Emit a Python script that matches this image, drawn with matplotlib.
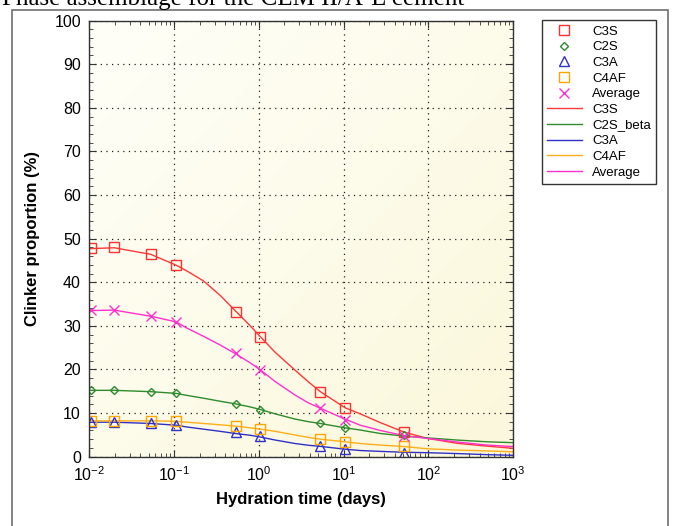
import numpy as np
import matplotlib
matplotlib.use("Agg")
import matplotlib.pyplot as plt
from matplotlib.patches import Rectangle
from matplotlib.ticker import LogLocator, MultipleLocator, NullFormatter

plt.rcParams["font.family"] = ["Liberation Sans", "DejaVu Sans"]

# Measured points (hydration time in days)
t_pts = [0.0104, 0.0197, 0.053, 0.106, 0.53, 1.04, 5.3, 10.4, 52]
c3s_pts = [47.8, 48.0, 46.4, 43.9, 33.2, 27.4, 14.9, 11.1, 5.6]
c2s_pts = [15.2, 15.2, 14.9, 14.5, 12.1, 10.8, 7.6, 6.6, 4.9]
c3a_pts = [7.9, 7.9, 7.6, 7.2, 5.6, 4.7, 2.5, 1.8, 0.9]
c4af_pts = [8.2, 8.2, 8.2, 8.1, 7.1, 6.3, 4.0, 3.4, 2.4]
avg_pts = [33.6, 33.6, 32.2, 30.9, 23.7, 19.9, 11.1, 8.5, 4.7]

# Model curves
t_fit = [0.01, 0.0197, 0.053, 0.106, 0.141, 0.222, 0.349, 0.53, 0.79, 1.04, 1.56,
         2.68, 3.86, 5.3, 10.4, 15.7, 27, 52, 96, 218, 490, 1000]
c3s_fit = [47.7, 47.9, 46.4, 43.9, 42.6, 40.3, 37.0, 33.4, 30.0, 27.5, 23.9,
           19.8, 17.1, 14.9, 11.2, 9.8, 7.8, 5.6, 4.2, 3.05, 2.4, 1.9]
c2s_fit = [15.2, 15.2, 14.9, 14.5, 14.05, 13.4, 12.7, 12.1, 11.4, 10.8, 9.8,
           8.6, 8.0, 7.6, 6.6, 6.1, 5.3, 4.7, 4.3, 3.8, 3.4, 3.2]
c3a_fit = [7.9, 7.9, 7.6, 7.2, 6.8, 6.3, 5.8, 5.3, 4.9, 4.5, 3.8,
           3.0, 2.6, 2.35, 1.7, 1.4, 1.2, 1.0, 0.9, 0.7, 0.45, 0.3]
c4af_fit = [8.2, 8.2, 8.2, 8.1, 7.9, 7.6, 7.3, 7.0, 6.6, 6.3, 5.8,
            4.95, 4.4, 4.0, 3.4, 3.0, 2.65, 2.3, 1.8, 1.5, 1.3, 1.1]
avg_fit = [33.5, 33.6, 32.2, 30.9, 29.5, 27.6, 25.6, 23.6, 21.5, 19.9, 17.2,
           14.1, 12.3, 11.1, 8.6, 7.2, 6.0, 4.8, 4.2, 3.35, 2.65, 2.3]

fig = plt.figure(figsize=(6.73, 5.26), dpi=100)
pos = [0.1327, 0.1319, 0.63, 0.8289]

# gradient background behind the axes
bg = fig.add_axes(pos, zorder=0)
gx, gy = np.meshgrid(np.linspace(0, 1, 200), np.linspace(0, 1, 200))
g = np.clip((gx + gy) / 2, 0, 1)
c0 = np.array([1.0, 1.0, 0.975])
c1 = np.array([0.985, 0.97, 0.86])
img = c0[None, None, :] * (1 - g[..., None]) + c1[None, None, :] * g[..., None]
bg.imshow(img, extent=[0, 1, 0, 1], aspect="auto", origin="upper")
bg.axis("off")

ax = fig.add_axes(pos, zorder=1)
ax.patch.set_alpha(0)

ax.plot(t_fit, c3s_fit, color="#ff3838", lw=1, label="C3S")
ax.plot(t_fit, c2s_fit, color="#2e8b2e", lw=1, label="C2S_beta")
ax.plot(t_fit, c3a_fit, color="#3030c8", lw=1, label="C3A")
ax.plot(t_fit, c4af_fit, color="#ffae1a", lw=1, label="C4AF")
ax.plot(t_fit, avg_fit, color="#ff30d0", lw=1, label="Average")

ax.plot(t_pts, c3s_pts, ls="none", marker="s", ms=6.5, mfc="none", mec="#ff3030", mew=1, label="C3S")
ax.plot(t_pts, c2s_pts, ls="none", marker="D", ms=4.5, mfc="none", mec="#2e8b2e", mew=1, label="C2S")
ax.plot(t_pts, c3a_pts, ls="none", marker="^", ms=6.5, mfc="none", mec="#3030c8", mew=1, label="C3A")
ax.plot(t_pts, c4af_pts, ls="none", marker="s", ms=6.5, mfc="none", mec="#ffa500", mew=1, label="C4AF")
ax.plot(t_pts, avg_pts, ls="none", marker="x", ms=7, mfc="none", mec="#ff30d0", mew=1, label="Average")

ax.set_xscale("log")
ax.set_xlim(1e-2, 1e3)
ax.set_ylim(0, 100)
ax.yaxis.set_major_locator(MultipleLocator(10))
ax.yaxis.set_minor_locator(MultipleLocator(2))
ax.xaxis.set_major_locator(LogLocator(base=10, numticks=20))
ax.xaxis.set_minor_locator(LogLocator(base=10, subs=np.arange(2, 10), numticks=20))
ax.xaxis.set_minor_formatter(NullFormatter())

ax.tick_params(which="both", direction="in", top=True, right=True, labelsize=11.5, color="#333333")
ax.tick_params(which="major", length=5, pad=6)
ax.tick_params(which="minor", length=3)
ax.grid(True, which="major", color="#222222", linestyle=(0, (1, 3.5)), lw=0.9)
for s in ax.spines.values():
    s.set_color("#333333")
    s.set_linewidth(1)

ax.set_xlabel("Hydration time (days)", fontsize=12, fontweight="bold", labelpad=6)
ax.set_ylabel("Clinker proportion (%)", fontsize=12, fontweight="bold", labelpad=10)

h, l = ax.get_legend_handles_labels()
order = [5, 6, 7, 8, 9, 0, 1, 2, 3, 4]
leg = fig.legend([h[i] for i in order], [l[i] for i in order], loc="upper left",
                 bbox_to_anchor=(542 / 673, 1 - 20 / 526), fontsize=9.5,
                 frameon=True, fancybox=False, edgecolor="#333333", framealpha=1,
                 handlelength=2.6, handletextpad=0.8, labelspacing=0.26,
                 borderpad=0.4, borderaxespad=0)
leg.get_frame().set_linewidth(1)

fig.text(0.003, 1 - 5 / 526, "Phase assemblage for the CEM II/A-L cement",
         fontsize=18, family="Liberation Serif", va="baseline", ha="left")

fig.add_artist(Rectangle((12 / 673, -0.05), (668 - 12) / 673, 1.05 - 10 / 526,
                         transform=fig.transFigure, fill=False, edgecolor="#707070", lw=1.2))

fig.savefig("out.png", dpi=100)
